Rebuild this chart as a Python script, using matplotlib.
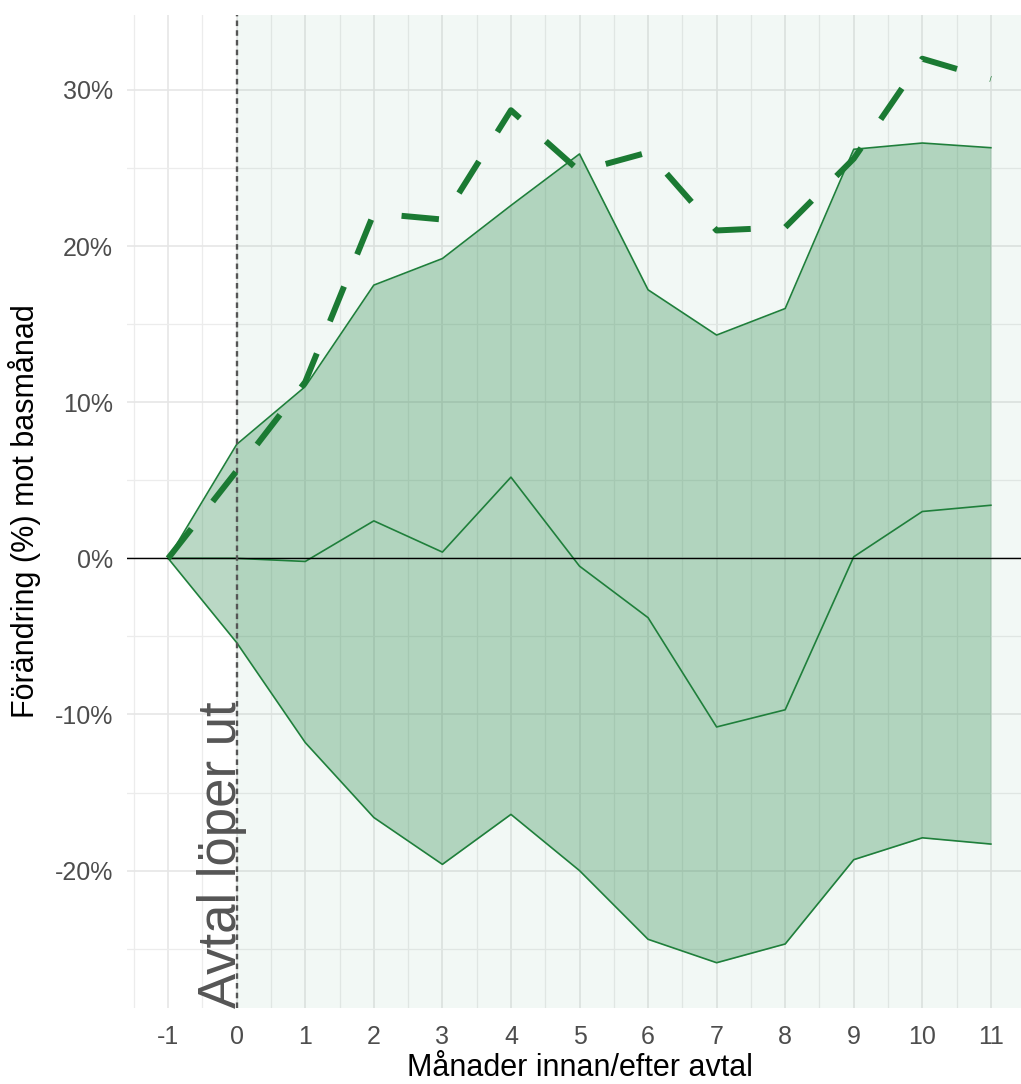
import numpy as np
import matplotlib
matplotlib.use('Agg')
import matplotlib.pyplot as plt
from matplotlib.ticker import FuncFormatter, MultipleLocator

plt.rcParams['font.family'] = ['Liberation Sans', 'DejaVu Sans']
plt.rcParams['lines.scale_dashes'] = False
plt.rcParams['axes.unicode_minus'] = False

# Månader relativt avtalet
manad = [-1, 0, 1, 2, 3, 4, 5, 6, 7, 8, 9, 10, 11]
# Intervall (övre / undre) och median, förändring i %
ovre = [0, 7.3, 11.0, 17.5, 19.2, 22.6, 25.9, 17.2, 14.3, 16.0, 26.2, 26.6, 26.3]
median = [0, 0.0, -0.2, 2.4, 0.4, 5.2, -0.5, -3.8, -10.8, -9.7, 0.1, 3.0, 3.4]
undre = [0, -5.4, -11.8, -16.6, -19.6, -16.4, -20.0, -24.4, -25.9, -24.7, -19.3, -17.9, -18.3]
# Streckad serie
serie = [0, 5.6, 11.3, 22.1, 21.7, 28.7, 24.8, 26.0, 21.0, 21.2, 25.6, 32.0, 30.7]

xticks = list(range(-1, 12))
yticks = [-20, -10, 0, 10, 20, 30]

green = '#1f7f3b'
dash_green = '#1b7a33'

fig = plt.figure(figsize=(10.21, 10.84), dpi=100)
W, H = 1021, 1084
ax = fig.add_axes([127 / W, 1 - 1008 / H, (1032 - 127) / W, (1008 - 15) / H])

ax.set_xlim(-1.6, 11.6)
ax.set_ylim(-28.8, 34.8)

# grid
ax.xaxis.set_major_locator(MultipleLocator(1))
ax.xaxis.set_minor_locator(MultipleLocator(0.5))
ax.yaxis.set_major_locator(MultipleLocator(10))
ax.yaxis.set_minor_locator(MultipleLocator(5))
ax.grid(True, which='major', color='#e6e6e6', lw=1.2, zorder=0)
ax.grid(True, which='minor', color='#ececec', lw=0.9, zorder=0)
ax.set_axisbelow(True)
for s in ax.spines.values():
    s.set_visible(False)
ax.tick_params(which='both', length=0)
ax.tick_params(axis='both', labelsize=18, labelcolor='#4d4d4d')
ax.tick_params(axis='x', pad=12)
ax.tick_params(axis='y', pad=10)
ax.set_xticks(xticks)
ax.set_yticks(yticks)
ax.yaxis.set_major_formatter(FuncFormatter(lambda v, p: f'{v:.0f}%'))

# period efter avtal
ax.axvspan(0, 11.6, color='#2e8b57', alpha=0.06, lw=0, zorder=1)

ax.fill_between(manad, undre, ovre, color='#2e8b50', alpha=0.33, lw=0, zorder=2)
ax.plot(manad, ovre, color=green, lw=1.2, zorder=3)
ax.plot(manad, undre, color=green, lw=1.2, zorder=3)
ax.plot(manad, median, color=green, lw=1.2, zorder=3)

ax.axhline(0, color='black', lw=1.0, zorder=4)
ax.axvline(0, color='#555555', lw=1.7, ls=(0, (4, 3)), zorder=4)

ax.plot(manad, serie, color=dash_green, lw=4.3, ls=(0, (27, 25)), zorder=5,
        solid_capstyle='butt', dash_capstyle='butt')

ax.text(0.15, -28.8, 'Avtal löper ut', rotation=90, fontsize=38, color='#555555',
        ha='right', va='bottom', zorder=6)

ax.set_xlabel('Månader innan/efter avtal', fontsize=22, labelpad=3)
ax.set_ylabel('Förändring (%) mot basmånad', fontsize=22, labelpad=10)

fig.savefig('out.png', dpi=100)
